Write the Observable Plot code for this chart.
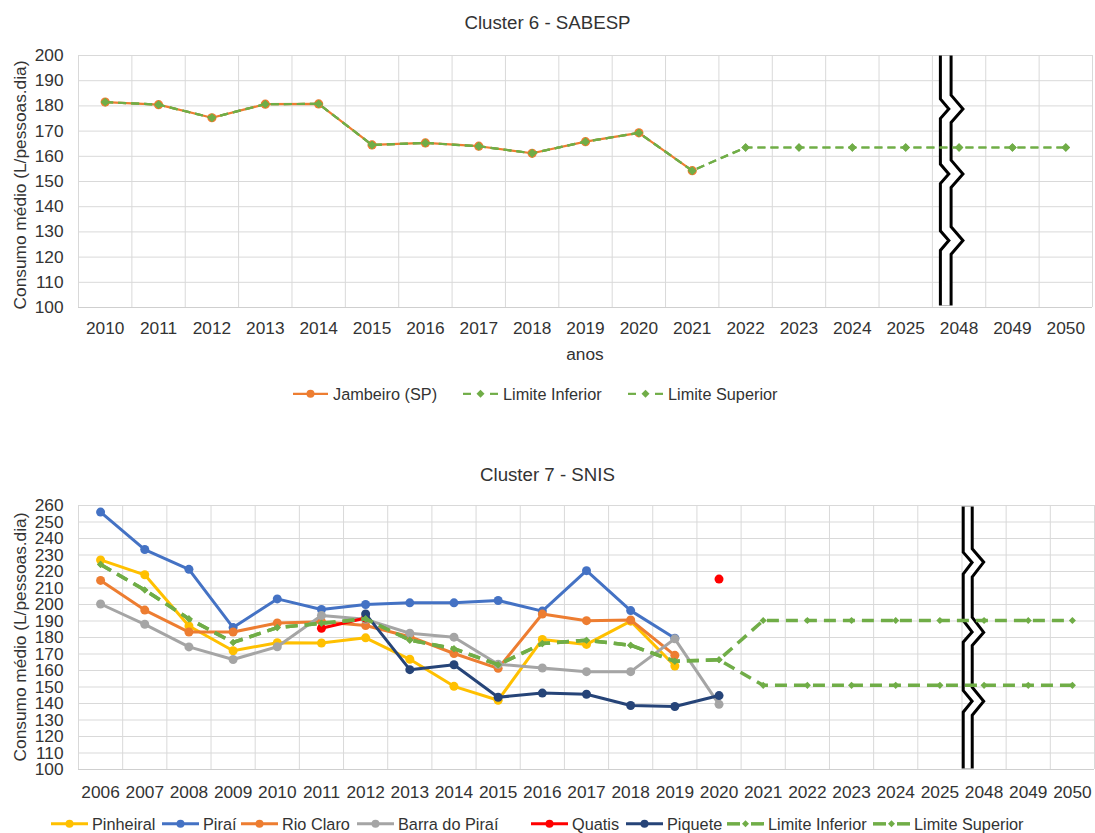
<!DOCTYPE html>
<html><head><meta charset="utf-8">
<script src="https://cdn.jsdelivr.net/npm/d3@7"></script>
<script src="https://cdn.jsdelivr.net/npm/@observablehq/plot@0.6"></script>
<style>
html,body{margin:0;padding:0;background:#fff;overflow:hidden;}
#root{position:relative;width:1095px;height:833px;font-family:"Liberation Sans",Arial,sans-serif;color:#333;}
.abs{position:absolute;}
.title{left:0;width:1095px;text-align:center;font-size:18.7px;line-height:1;white-space:nowrap;}
.ylab{font-size:17.3px;line-height:1;white-space:nowrap;transform:translate(-50%,-50%) rotate(-90deg);}
.item{display:flex;align-items:center;line-height:1;font-size:16.3px;transform:translateY(-50%);white-space:nowrap;}
.item svg{display:block;overflow:visible;}
</style></head><body><div id="root"></div>
<script>
// ---------- DATA ----------
const years1 = ["2010","2011","2012","2013","2014","2015","2016","2017","2018","2019","2020","2021","2022","2023","2024","2025","2048","2049","2050"];
const jambeiro = [181.5,180.5,175.3,180.7,180.8,164.5,165.3,164.0,161.2,165.8,169.3,154.3,null,null,null,null,null,null,null];
const limInf1  = [181.5,180.5,175.3,180.7,180.8,164.5,165.3,164.0,161.2,165.8,169.3,154.3,163.5,163.5,163.5,163.5,163.5,163.5,163.5];
const limSup1  = [181.5,180.5,175.3,180.7,180.8,164.5,165.3,164.0,161.2,165.8,169.3,154.3,163.5,163.5,163.5,163.5,163.5,163.5,163.5];
const yTicks1 = [100,110,120,130,140,150,160,170,180,190,200];

const years2 = ["2006","2007","2008","2009","2010","2011","2012","2013","2014","2015","2016","2017","2018","2019","2020","2021","2022","2023","2024","2025","2048","2049","2050"];
const pinheiral = [227.0,218.0,187.0,172.0,176.8,176.7,179.8,166.8,150.4,142.0,178.8,175.8,189.9,162.7,null,null,null,null,null,null,null,null,null];
const pirai     = [256.0,233.3,221.3,186.0,203.4,197.0,200.0,201.0,201.0,202.4,196.0,220.5,196.3,179.6,null,null,null,null,null,null,null,null,null];
const rioClaro  = [214.6,196.6,183.3,183.3,188.8,189.6,187.3,180.5,170.3,161.3,194.2,190.2,190.6,169.2,null,null,null,null,null,null,null,null,null];
const barra     = [200.3,188.0,174.3,166.7,174.4,193.3,191.0,182.6,180.2,163.8,161.5,159.3,159.3,179.2,139.5,null,null,null,null,null,null,null,null];
const quatis    = [null,null,null,null,null,185.6,191.8,null,null,null,null,null,null,null,215.4,null,null,null,null,null,null,null,null];
const piquete   = [null,null,null,null,null,null,194.3,160.5,163.5,143.8,146.3,145.6,138.8,138.2,144.8,null,null,null,null,null,null,null,null];
const limInf2   = [224.3,208.8,191.3,177.0,186.0,188.6,191.3,178.4,173.2,163.5,176.3,178.3,175.3,165.6,166.5,151.0,151.0,151.0,151.0,151.0,151.0,151.0,151.0];
const limSup2   = [224.3,208.8,191.3,177.0,186.0,188.6,191.3,178.4,173.2,163.5,176.3,178.3,175.3,165.6,166.5,190.3,190.3,190.3,190.3,190.3,190.3,190.3,190.3];
const yTicks2 = [100,110,120,130,140,150,160,170,180,190,200,210,220,230,240,250,260];

const yLabel = "Consumo médio (L/pessoas.dia)";
const C = {orange:"#ED7D31", green:"#70AD47", yellow:"#FFC000", blue:"#4472C4", gray:"#A5A5A5", red:"#FF0000", navy:"#264478"};

// ---------- helpers ----------
const FONT = '"Liberation Sans", Arial, sans-serif';
function rows(labels, arr){ return labels.map((l,i)=>({x:i+0.5, y:arr[i]})); }
function breakPts(c, off, yTop, yBot, notches){
  const p=[{x:c,y:yTop}];
  for(const [a,m,b] of notches){ p.push({x:c,y:a},{x:c+off,y:m},{x:c,y:b}); }
  p.push({x:c,y:yBot});
  return p;
}

function chart(o){
  const n=o.labels.length;
  const centers=o.labels.map((_,i)=>i+0.5);
  const marks=[
    Plot.ruleY(o.yTicks.slice(1),{stroke:"#d9d9d9",strokeWidth:1}),
    Plot.ruleX(d3.range(n+1),{stroke:"#d9d9d9",strokeWidth:1}),
    Plot.ruleY([o.yTicks[0]],{stroke:"#cfcfcf",strokeWidth:1}),
    Plot.axisY({ticks:o.yTicks,tickSize:0,tickPadding:15,label:null}),
    Plot.axisX({ticks:centers,tickFormat:d=>o.labels[Math.round(d-0.5)],tickSize:0,tickPadding:o.tickPad,label:null}),
    Plot.line(o.brk,{x:"x",y:"y",stroke:"black",strokeWidth:o.brkW,strokeLinejoin:"miter",strokeLinecap:"butt",strokeMiterlimit:10}),
    Plot.line(o.brk,{x:"x",y:"y",stroke:"white",strokeWidth:o.brkW-6,strokeLinejoin:"miter",strokeLinecap:"butt",strokeMiterlimit:10})
  ];
  for(const s of o.series){
    const d=rows(o.labels,s.values);
    const pts=d.filter(r=>r.y!=null);
    marks.push(Plot.line(d,{x:"x",y:"y",stroke:s.color,strokeWidth:s.width,strokeDasharray:s.dash||null,strokeLinejoin:"round",strokeLinecap:s.dash?"butt":"round"}));
    if(s.symbol==="diamond"){
      marks.push(Plot.dot(pts,{x:"x",y:"y",symbol:"diamond2",r:s.r,fill:s.color,stroke:"none"}));
    } else {
      marks.push(Plot.dot(pts,{x:"x",y:"y",r:s.r,fill:s.color,stroke:"none"}));
    }
  }
  return Plot.plot({
    width:1095,height:o.height,
    marginLeft:78,marginRight:o.marginRight,marginTop:o.marginTop,marginBottom:o.marginBottom,
    x:{domain:[0,n],label:null},
    y:{domain:[o.yTicks[0],o.yTicks[o.yTicks.length-1]],label:null},
    style:{fontFamily:FONT,fontSize:"17.3px",color:"#333",background:"transparent",overflow:"visible"},
    marks
  });
}

const root=document.getElementById("root");
function place(el,top,left){ el.classList.add("abs"); el.style.top=top+"px"; el.style.left=(left||0)+"px"; root.appendChild(el); return el; }
function div(cls,html){ const d=document.createElement("div"); d.className=cls; d.innerHTML=html; return d; }

// ---------- chart 1 ----------
const svg1=chart({
  labels:years1, yTicks:yTicks1, height:370, marginTop:55, marginBottom:63, marginRight:3, tickPad:14,
  brk:breakPts(16.25,0.19,200,100.8,[[183.5,178.8,174.2],[157.7,153.0,148.4],[131.2,126.6,121.9]]), brkW:13.7,
  series:[
    {values:jambeiro,color:C.orange,width:2.2,r:4.6},
    {values:limInf1,color:C.green,width:2.2,dash:"8,5",symbol:"diamond",r:3.8},
    {values:limSup1,color:C.green,width:2.2,dash:"8,5",symbol:"diamond",r:3.8}
  ]
});
place(svg1,0,0);

// ---------- chart 2 ----------
const svg2=chart({
  labels:years2, yTicks:yTicks2, height:368, marginTop:65, marginBottom:39, marginRight:1, tickPad:15.8,
  brk:breakPts(20.13,0.23,259.4,100.6,[[232.7,225.6,217.6],[191.3,183.2,176.2],[148.9,141.4,133.8]]), brkW:12,
  series:[
    {values:pinheiral,color:C.yellow,width:3,r:4.5},
    {values:pirai,color:C.blue,width:3,r:4.5},
    {values:rioClaro,color:C.orange,width:3,r:4.5},
    {values:barra,color:C.gray,width:3,r:4.5},
    {values:quatis,color:C.red,width:3,r:4.5},
    {values:piquete,color:C.navy,width:3,r:4.5},
    {values:limInf2,color:C.green,width:3.5,dash:"12,7",symbol:"diamond",r:3.2},
    {values:limSup2,color:C.green,width:3.5,dash:"12,7",symbol:"diamond",r:3.2}
  ]
});
place(svg2,440,0);

// ---------- titles & axis labels ----------
place(div("title","Cluster 6 - SABESP"),29.8-0.8465*18.7,0);
place(div("title","Cluster 7 - SNIS"),481.5-0.8465*18.7,0);
const anos=div("title","anos"); anos.style.width="200px"; anos.style.fontSize="17.3px";
place(anos,361-0.8465*17.3,485);
place(div("ylab",yLabel),185,20.5);
place(div("ylab",yLabel),637,20.5);

// ---------- legends ----------
function swSeries(color,w,lw,r){
  return `<svg width="${w}" height="12"><line x1="0" x2="${w}" y1="6" y2="6" stroke="${color}" stroke-width="${lw}"/><circle cx="${w/2}" cy="6" r="${r}" fill="${color}"/></svg>`;
}
function swLimit(color,w,lw,dl,h){
  const m=w/2;
  return `<svg width="${w}" height="12"><line x1="0" x2="${dl}" y1="6" y2="6" stroke="${color}" stroke-width="${lw}"/><line x1="${w-dl}" x2="${w}" y1="6" y2="6" stroke="${color}" stroke-width="${lw}"/><path d="M${m},${6-h}L${m+h},6L${m},${6+h}L${m-h},6Z" fill="${color}"/></svg>`;
}
function legendItem(sw,label,top,left,gap){
  const e=div("item",sw+`<span>${label}</span>`); e.style.gap=gap+"px";
  place(e,top,left);
}
legendItem(swSeries(C.orange,35,2.2,4),"Jambeiro (SP)",394,293,5);
legendItem(swLimit(C.green,35,2.2,8,4),"Limite Inferior",394,463,5);
legendItem(swLimit(C.green,35,2.2,8,4),"Limite Superior",394,628,5);

legendItem(swSeries(C.yellow,37,3,4),"Pinheiral",824,51,4);
legendItem(swSeries(C.blue,37,3,4),"Piraí",824,162,4);
legendItem(swSeries(C.orange,37,3,4),"Rio Claro",824,241,4);
legendItem(swSeries(C.gray,37,3,4),"Barra do Piraí",824,357,4);
legendItem(swSeries(C.red,37,3,4),"Quatis",824,531,4);
legendItem(swSeries(C.navy,37,3,4),"Piquete",824,626,4);
legendItem(swLimit(C.green,37,3.5,13,3.5),"Limite Inferior",824,727,4);
legendItem(swLimit(C.green,37,3.5,13,3.5),"Limite Superior",824,873,4);
</script></body></html>
